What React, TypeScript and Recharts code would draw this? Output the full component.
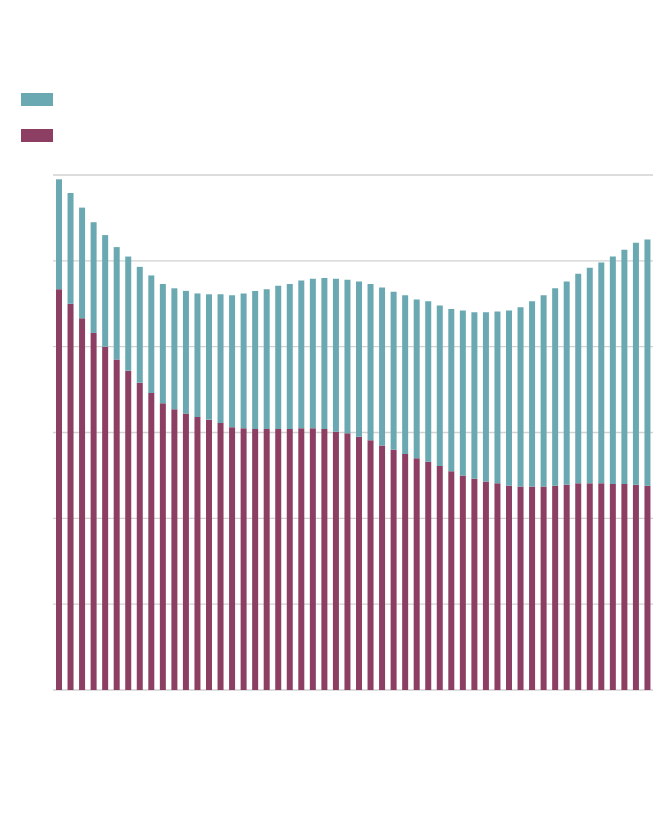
import { BarChart, Bar, XAxis, YAxis, CartesianGrid, Legend } from 'recharts';

// 52 periods (no labels shown in the source)
const periods = [
  '1', '2', '3', '4', '5', '6', '7', '8', '9', '10', '11', '12', '13',
  '14', '15', '16', '17', '18', '19', '20', '21', '22', '23', '24', '25', '26',
  '27', '28', '29', '30', '31', '32', '33', '34', '35', '36', '37', '38', '39',
  '40', '41', '42', '43', '44', '45', '46', '47', '48', '49', '50', '51', '52',
];

// bottom segment (maroon)
const lower = [
  4.67, 4.5, 4.33, 4.16, 4.0, 3.85, 3.72, 3.58, 3.46, 3.34, 3.27, 3.22, 3.18,
  3.15, 3.11, 3.06, 3.05, 3.04, 3.04, 3.04, 3.04, 3.05, 3.05, 3.04, 3.01, 2.99,
  2.95, 2.91, 2.85, 2.8, 2.75, 2.7, 2.66, 2.61, 2.55, 2.5, 2.46, 2.43, 2.41,
  2.38, 2.37, 2.37, 2.37, 2.38, 2.39, 2.41, 2.41, 2.41, 2.4, 2.4, 2.39, 2.38,
];

// top segment (teal)
const upper = [
  1.28, 1.29, 1.29, 1.29, 1.3, 1.31, 1.33, 1.35, 1.37, 1.39, 1.41, 1.43, 1.44,
  1.46, 1.5, 1.54, 1.57, 1.61, 1.63, 1.67, 1.69, 1.72, 1.74, 1.76, 1.78, 1.79,
  1.81, 1.82, 1.84, 1.84, 1.85, 1.85, 1.87, 1.87, 1.89, 1.92, 1.94, 1.97, 2.0,
  2.04, 2.09, 2.16, 2.23, 2.3, 2.37, 2.44, 2.51, 2.57, 2.65, 2.73, 2.82, 2.87,
];

const yTicks = [0, 1, 2, 3, 4, 5, 6];

const TEAL = '#6aa9b2';
const MAROON = '#8c3f62';

const data = periods.map((p, i) => ({ period: p, lower: lower[i], upper: upper[i] }));

function Swatches() {
  return (
    <div>
      <div style={{ width: 32, height: 13, background: TEAL }} />
      <div style={{ width: 32, height: 13, background: MAROON, marginTop: 23 }} />
    </div>
  );
}

export default function App() {
  // the legend box (49px tall) is taken off the bottom of the plot by recharts,
  // so the bottom margin is smaller by that much
  return (
    <BarChart
      width={654}
      height={800}
      data={data}
      margin={{ top: 167, right: 9, bottom: 69, left: 45 }}
      barSize={6}
    >
      <CartesianGrid vertical={false} stroke="#d2d2d2" strokeWidth={1.3} />
      <XAxis dataKey="period" hide />
      <YAxis hide domain={[0, 6]} ticks={yTicks} />
      <Legend
        content={() => <Swatches />}
        wrapperStyle={{ position: 'absolute', top: 85, left: 13, width: 'auto' }}
      />
      <Bar dataKey="lower" stackId="a" fill={MAROON} isAnimationActive={false} />
      <Bar dataKey="upper" stackId="a" fill={TEAL} isAnimationActive={false} />
    </BarChart>
  );
}
